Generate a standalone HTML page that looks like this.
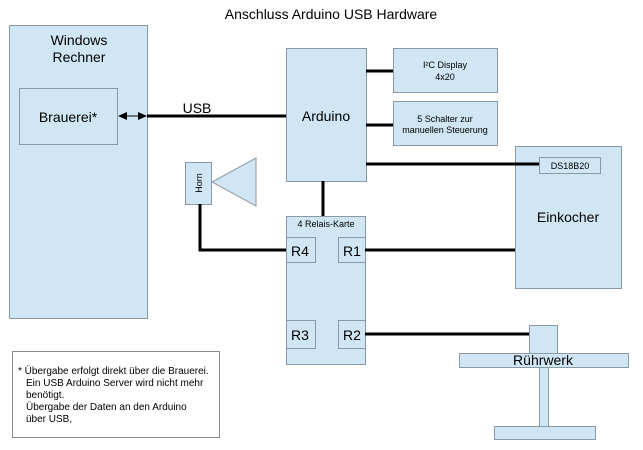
<!DOCTYPE html>
<html><head><meta charset="utf-8"><style>html,body{margin:0;padding:0;background:#fff}svg{display:block}</style></head>
<body>
<svg width="643" height="450" viewBox="0 0 643 450" xmlns="http://www.w3.org/2000/svg" font-family="Liberation Sans, Arial, sans-serif">
<rect width="643" height="450" fill="#fff"/>
<text x="331" y="19" font-size="14" text-anchor="middle" fill="#000">Anschluss Arduino USB Hardware</text>
<g fill="#d0e6f4" stroke="#8a9aa4" stroke-width="1">
<rect x="9.5" y="25.5" width="138" height="293"/>
<rect x="19.5" y="88.5" width="98" height="56"/>
<rect x="286.5" y="48.5" width="80" height="133"/>
<rect x="393.5" y="48.5" width="104" height="44"/>
<rect x="393.5" y="101.5" width="104" height="44"/>
<rect x="515.5" y="146.5" width="106" height="142"/>
<rect x="539.5" y="157.5" width="61" height="16"/>
<rect x="286.5" y="216.5" width="79" height="148"/>
<rect x="286.5" y="237.5" width="29" height="25"/>
<rect x="338.5" y="237.5" width="27" height="25"/>
<rect x="286.5" y="320.5" width="29" height="28"/>
<rect x="338.5" y="320.5" width="27" height="28"/>
<rect x="185.5" y="162.5" width="26" height="42"/>
<polygon points="212,182 256,158 256,206"/>
<rect x="529.5" y="325.5" width="28" height="28"/>
<rect x="459.5" y="353.5" width="169" height="14"/>
<rect x="539.5" y="367.5" width="9" height="59"/>
<rect x="494.5" y="426.5" width="101" height="13"/>
</g>
<rect x="12.5" y="351.5" width="207" height="86" fill="#fff" stroke="#8a8a8a"/>
<g stroke="#000" stroke-width="3" fill="none">
<line x1="147" y1="116" x2="286" y2="116"/>
<line x1="366" y1="71" x2="393" y2="71"/>
<line x1="366" y1="125" x2="393" y2="125"/>
<line x1="366" y1="164" x2="539" y2="164"/>
<line x1="323" y1="181" x2="323" y2="216"/>
<polyline points="200,204 200,250 286,250"/>
<line x1="365" y1="250" x2="515" y2="250"/>
<line x1="365" y1="334" x2="529" y2="334"/>
</g>
<line x1="124" y1="116" x2="141" y2="116" stroke="#000" stroke-width="1"/>
<polygon points="118,116 127,112 127,120" fill="#000"/>
<polygon points="147,116 138,112 138,120" fill="#000"/>
<g fill="#000" text-anchor="middle">
<text x="79" y="45" font-size="14">Windows</text>
<text x="79" y="62" font-size="14">Rechner</text>
<text x="68" y="122" font-size="14">Brauerei*</text>
<text x="197" y="113" font-size="14">USB</text>
<text x="326" y="121" font-size="14">Arduino</text>
<text x="445" y="68" font-size="9">I²C Display</text>
<text x="445" y="80" font-size="9">4x20</text>
<text x="445" y="122" font-size="9">5 Schalter zur</text>
<text x="445" y="133" font-size="9">manuellen Steuerung</text>
<text x="570" y="169" font-size="9">DS18B20</text>
<text x="568" y="222" font-size="14">Einkocher</text>
<text x="326" y="227" font-size="9">4 Relais-Karte</text>
<text x="300" y="256" font-size="14">R4</text>
<text x="352" y="256" font-size="14">R1</text>
<text x="300" y="340" font-size="14">R3</text>
<text x="352" y="340" font-size="14">R2</text>
<text x="543" y="365" font-size="14">Rührwerk</text>
<text x="0" y="0" font-size="9" transform="translate(202,183) rotate(-90)">Horn</text>
</g>
<g fill="#000" font-size="10">
<text x="18" y="374">* Übergabe erfolgt direkt über die Brauerei.</text>
<text x="26" y="386">Ein USB Arduino Server wird nicht mehr</text>
<text x="26" y="398">benötigt.</text>
<text x="26" y="410">Übergabe der Daten an den Arduino</text>
<text x="26" y="422">über USB,</text>
</g>
</svg>
</body></html>
